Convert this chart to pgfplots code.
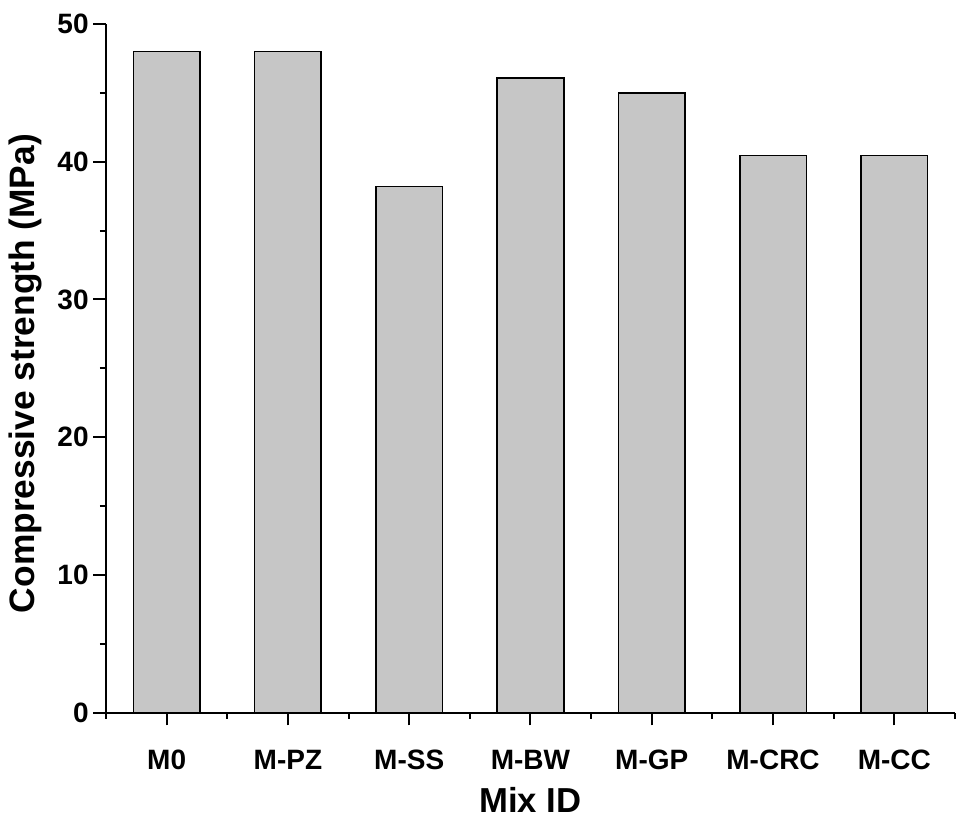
\documentclass[border=0pt]{standalone}
\usepackage{fontspec}
\setmainfont{Liberation Sans}
\usepackage{pgfplots}
\pgfplotsset{compat=1.18}
\definecolor{barfill}{RGB}{198,198,198}
\begin{document}
\begin{tikzpicture}
\path[use as bounding box] (-79.5pt,-81.2pt) rectangle (644.25pt,534.5pt);
\begin{axis}[
  at={(0,0)}, anchor=south west,
  scale only axis,
  width=636.75pt, height=516.5pt,
  xmin=-0.5, xmax=6.5, ymin=0, ymax=50,
  axis x line*=bottom, axis y line*=left,
  axis line style={line width=1.5pt, black},
  tick style={line width=1.5pt, black},
  major tick style={line width=1.5pt, black},
  minor tick style={line width=1.5pt, black},
  tick align=outside,
  major tick length=9.5pt, minor tick length=4.5pt,
  xtick={0,1,2,3,4,5,6},
  xticklabels={M0,M-PZ,M-SS,M-BW,M-GP,M-CRC,M-CC},
  minor xtick={-0.5,0.5,1.5,2.5,3.5,4.5,5.5,6.5},
  ytick={0,10,20,30,40,50},
  yticklabels={0,10,20,30,40,50},
  minor ytick={5,15,25,35,45},
  tick label style={font=\bfseries\fontsize{21}{21}\selectfont},
  xticklabel style={anchor=base, yshift=-33.2pt},
  xlabel={Mix ID},
  ylabel={Compressive strength (MPa)},
  xlabel style={at={(axis description cs:0.5,-0.1456)}, anchor=base, font=\bfseries\fontsize{26}{26}\selectfont},
  ylabel style={at={(axis description cs:-0.0954,0.4925)}, anchor=center, font=\bfseries\fontsize{26.5}{26.5}\selectfont},
  clip=false,
]
\addplot[ybar, bar width=50pt, fill=barfill, draw=black, line width=1.2pt]
  coordinates {(0,48.0) (1,48.0) (2,38.2) (3,46.1) (4,45.0) (5,40.45) (6,40.45)};
\end{axis}
\end{tikzpicture}
\end{document}
